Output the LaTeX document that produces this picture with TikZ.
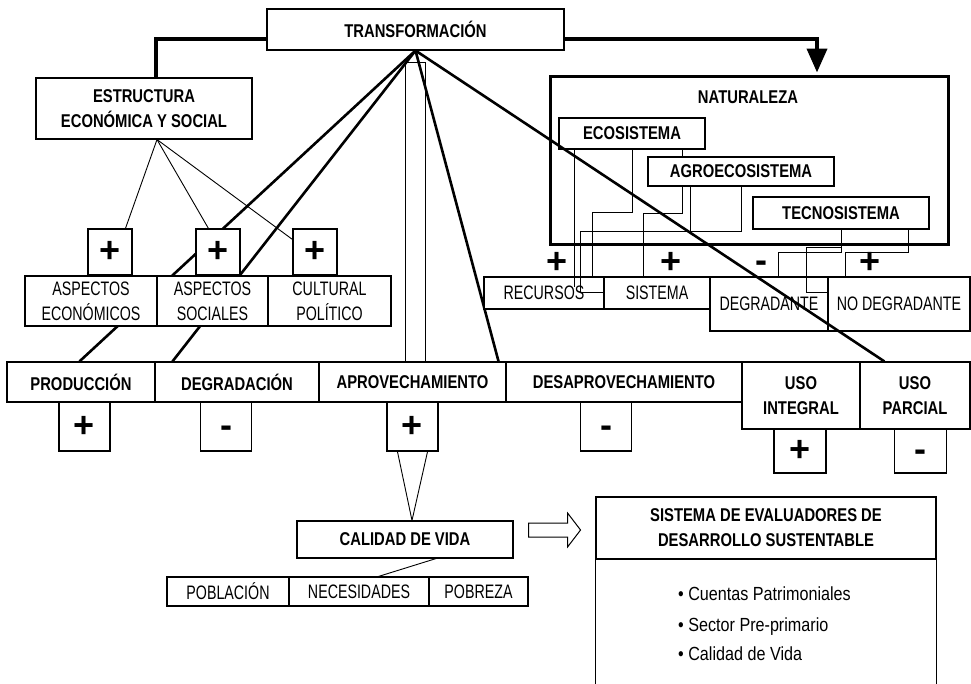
\documentclass[tikz,border=0pt]{standalone}
\usepackage{fontspec}
\newfontfamily\fRg{Liberation Sans}[FakeStretch=0.73]
\newfontfamily\fBd{Liberation Sans}[FakeStretch=0.8]
\newfontfamily\fBl{Liberation Sans}[FakeStretch=0.85]
\newfontfamily\fSg{Liberation Sans}
\usetikzlibrary{calc,arrows.meta,backgrounds}
\begin{document}
\begin{tikzpicture}[x=1pt,y=-1pt,
  box/.style={draw, line width=1.1pt, fill=white, inner sep=0pt, align=center, font=\fRg\fontsize{19.5}{25}\selectfont},
  bbox/.style={box, font=\fBd\bfseries\fontsize{18.5}{25}\selectfont},
  sgnbox/.style={box, font=\fSg\bfseries\fontsize{36}{36}\selectfont, text height=21pt, text depth=0pt},
  sgn/.style={inner sep=0pt, font=\fSg\bfseries\fontsize{36}{36}\selectfont, text height=21pt, text depth=0pt},
  bul/.style={inner sep=0pt, anchor=base west, font=\fBl\fontsize{19}{22}\selectfont},
  thn/.style={line width=0.9pt},
  thk/.style={line width=2.6pt}]
\useasboundingbox (0,0) rectangle (971,683);
% top
\node[bbox, minimum width=297, minimum height=41] (trans) at (415.5,29.5) {TRANSFORMACIÓN};
\node[bbox, minimum width=216, minimum height=61] (est) at (144,108.5) {ESTRUCTURA\\ECONÓMICA Y SOCIAL};
% naturaleza
\node[draw, line width=3pt, minimum width=398, minimum height=168, inner sep=0pt] (nat) at (749,160) {};
\node[inner sep=0pt, font=\fBd\bfseries\fontsize{18.5}{25}\selectfont] (natl) at (748,97) {NATURALEZA};
\node[bbox, minimum width=146, minimum height=31] (eco) at (632,133.5) {ECOSISTEMA};
\node[bbox, minimum width=186, minimum height=29] (agro) at (741,171.5) {AGROECOSISTEMA};
\node[bbox, minimum width=176, minimum height=32] (tec) at (841,213) {TECNOSISTEMA};
\node[box, minimum width=120, minimum height=32] (rec) at (544,293) {RECURSOS};
\node[box, minimum width=106, minimum height=32] (sis) at (657,293) {SISTEMA};
\node[box, minimum width=118, minimum height=54] (dgt) at (769,304) {DEGRADANTE};
\node[box, minimum width=142, minimum height=54] (ndg) at (899,304) {NO DEGRADANTE};
\node[sgn] (g1) at (557,263) {+};
\node[sgn] (g2) at (671,263) {+};
\node[sgn] (g3) at (761,262) {-};
\node[sgn] (g4) at (870,263) {+};
% aspectos
\node[sgnbox, minimum width=44, minimum height=46] (pb1) at (110,252) {+};
\node[sgnbox, minimum width=44, minimum height=46] (pb2) at (218,252) {+};
\node[sgnbox, minimum width=44, minimum height=46] (pb3) at (315,252) {+};
\node[box, minimum width=132, minimum height=50] (ae) at (91,301) {ASPECTOS\\ECONÓMICOS};
\node[box, minimum width=111, minimum height=50] (as) at (212.5,301) {ASPECTOS\\SOCIALES};
\node[box, minimum width=123, minimum height=50] (cp) at (329.5,301) {CULTURAL\\POLÍTICO};
% row 2
\node[bbox, minimum width=148, minimum height=40] (prod) at (81,382) {PRODUCCIÓN};
\node[bbox, minimum width=164, minimum height=40] (degr) at (237,382) {DEGRADACIÓN};
\node[bbox, minimum width=187, minimum height=40] (aprov) at (412.5,382) {APROVECHAMIENTO};
\node[bbox, minimum width=236, minimum height=40] (desap) at (624,382) {DESAPROVECHAMIENTO};
\node[bbox, minimum width=118, minimum height=67] (usoi) at (801,395.5) {USO\\INTEGRAL};
\node[bbox, minimum width=110, minimum height=67] (usop) at (915,395.5) {USO\\PARCIAL};
\node[sgnbox, minimum width=51, minimum height=49] (s1) at (84.5,426.5) {+};
\node[sgnbox, minimum width=51, minimum height=49] (s2) at (226,426.5) {-};
\node[sgnbox, minimum width=51, minimum height=49] (s3) at (412.5,426.5) {+};
\node[sgnbox, minimum width=51, minimum height=49] (s4) at (606,426.5) {-};
\node[sgnbox, minimum width=52, minimum height=44] (s5) at (800,451) {+};
\node[sgnbox, minimum width=52, minimum height=44] (s6) at (920.5,451) {-};
% calidad
\node[bbox, minimum width=216, minimum height=37] (cal) at (405,539.5) {CALIDAD DE VIDA};
\node[box, minimum width=122, minimum height=29] (pobl) at (228,591.5) {POBLACIÓN};
\node[box, minimum width=140, minimum height=29] (nec) at (359,591.5) {NECESIDADES};
\node[box, minimum width=99, minimum height=29] (pobr) at (478.5,591.5) {POBREZA};
% sistema de evaluadores
\node[bbox, minimum width=340, minimum height=62] (sde) at (766,528) {SISTEMA DE EVALUADORES DE\\DESARROLLO SUSTENTABLE};
\draw[line width=1.1pt] (sde.south west) -- ++(0,124);
\draw[line width=1.1pt] (sde.south east) -- ++(0,124);
\node[bul] (b1) at (678,600) {• Cuentas Patrimoniales};
\node[bul] (b2) at (678,631) {• Sector Pre-primario};
\node[bul] (b3) at (678,660) {• Calidad de Vida};
% hollow arrow
\coordinate (ha) at ($(cal.east)+(15,-9.5)$);
\draw[line width=1pt] ($(ha)+(0,-7)$) -- ++(39,0) -- ++(0,-10) -- ++(13,17) -- ++(-13,17) -- ++(0,-10) -- ++(-39,0) -- cycle;
% background connectors
\begin{pgfonlayer}{background}
\fill[white] (0,0) rectangle (971,683);
\draw[thk] (trans.south) -- ($(prod.north west)+(73,0)$);
\draw[thk] (trans.south) -- ($(degr.north west)+(18,0)$);
\draw[thk] (trans.south) -- ($(aprov.north east)+(-8,0)$);
\draw[thn] ($(aprov.north west)+(87,0)$) rectangle ($(aprov.north west)+(107,-299)$);
\draw[thn] ($(est.south)+(13,0)$) -- ($(pb1.north west)+(38,0)$);
\draw[thn] ($(est.south)+(13,0)$) -- ($(pb2.north west)+(13,0)$);
\draw[thn] ($(est.south)+(13,0)$) -- ($(pb3.north west)+(0,11)$);
\draw[thn] ($(s3.south west)+(11,0)$) -- ($(cal.north)+(7,0)$) -- ($(s3.south east)+(-11,0)$);
\draw[thn] ($(cal.south)+(31,0)$) -- ($(nec.north west)+(90,0)$);
\end{pgfonlayer}
% thick top connectors
\draw[line width=4pt] ($(trans.west)+(0,9.5)$) -| ($(est.north)+(12,0)$);
\draw[line width=4pt, -{Triangle[width=20pt,length=24pt]}] ($(trans.east)+(0,9.5)$) -| ($(nat.north)+(68,-2)$);
% naturaleza connectors
\draw[thn] ($(eco.south west)+(16,0)$) -- ($(rec.north west)+(91,11)$);
\draw[thn] ($(eco.south west)+(74,0)$) -- ++(0,63) -| ($(rec.north west)+(109,0)$);
\draw[thn] ($(eco.south west)+(124,0)$) -- ($(agro.north west)+(35,0)$);
\draw[thn] ($(agro.south west)+(35,0)$) -- ++(0,27) -| ($(sis.north west)+(40,0)$);
\draw[thn] ($(agro.south west)+(94,0)$) -- ++(0,45) -| ($(rec.north west)+(97,16)$) -- ($(sis.north west)+(0,16)$);
\draw[thn] ($(agro.south west)+(43,0)$) -- ++(0,45);
\draw[thn] ($(tec.south west)+(89,0)$) -- ++(0,23) -| ($(dgt.north west)+(69,0)$);
\draw[thn] ($(tec.south west)+(89,18)$) -| ($(dgt.north west)+(97,16)$) -- ($(ndg.north west)+(0,16)$);
\draw[thn] ($(tec.south west)+(156,0)$) -- ++(0,23) -| ($(ndg.north west)+(18,0)$);
% long diagonal on top
\draw[thk] (trans.south) -- ($(usop.north west)+(25,0)$);
\end{tikzpicture}
\end{document}
